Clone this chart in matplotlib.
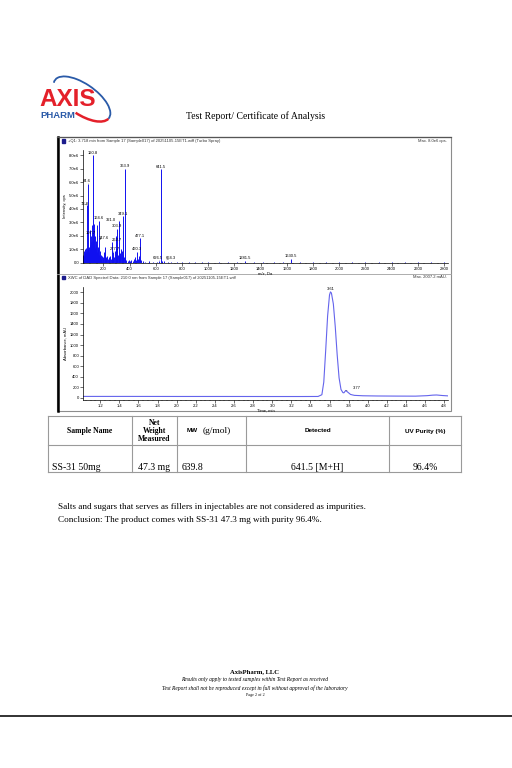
#!/usr/bin/env python3
"""
Test Report / Certificate of Analysis page: MS spectrum + UV (DAD) trace + result table
"""
import numpy as np
import matplotlib.pyplot as plt
from matplotlib.patches import Rectangle, Arc
from matplotlib.ticker import MultipleLocator, FuncFormatter

W, H = 512, 768
SERIF = 'Liberation Serif'
SANS = 'Liberation Sans'

# --- MS spectrum (+Q1, 3.718 min), intensity in 1e6 cps ---
ms_mz = [45, 50, 55, 58, 60, 63, 66, 70, 72.8, 75, 78, 80, 82, 84.6, 87, 90, 93,
         96, 99, 102, 105, 107.7, 110, 113, 116, 118, 120.8, 123, 126, 129, 132,
         135, 138, 141, 144, 147.6, 150, 153, 156, 159, 161, 164.6, 168, 172, 176,
         180, 185, 190, 195, 200, 205, 210, 214, 218, 222, 228, 233, 240, 245, 250,
         255, 262.7, 268, 272, 277.7, 283, 288, 293, 298, 303.9, 307, 312, 316,
         321.0, 325, 330, 335, 340, 344, 349.1, 353, 358, 363.9, 368, 375, 385,
         395, 405, 415, 425, 435, 445, 452, 460.3, 466, 471, 477.1, 483, 490, 500,
         520, 550, 580, 610, 626.5, 641.5, 650, 664.3, 690, 720, 760, 800, 850,
         900, 950, 1000, 1080, 1150, 1220, 1281.5, 1350, 1420, 1500, 1570, 1630.5,
         1700, 1800, 1900, 2000, 2100, 2200, 2300, 2400, 2500, 2600, 2700, 2800]
ms_int = [0.6, 0.9, 0.5, 1.0, 0.7, 0.4, 1.1, 0.8, 4.3, 0.9, 0.5, 1.0, 0.6, 5.9, 1.2,
          0.8, 0.5, 1.3, 0.9, 2.4, 1.5, 2.0, 1.0, 2.8, 1.6, 2.2, 8.0, 1.4, 2.9, 1.8,
          2.5, 1.1, 2.0, 0.9, 1.4, 1.6, 0.8, 2.8, 1.2, 0.7, 1.0, 3.1, 0.6, 0.9, 0.4,
          0.6, 0.3, 0.5, 0.3, 0.4, 0.8, 1.2, 0.6, 0.4, 0.3, 0.5, 0.3, 0.4, 0.2, 0.5,
          0.3, 1.5, 0.4, 0.3, 0.8, 0.4, 0.9, 1.0, 2.0, 2.5, 1.1, 0.6, 0.8, 3.1, 0.5,
          0.7, 1.0, 0.4, 0.9, 3.45, 0.6, 0.4, 7.0, 0.3, 0.2, 0.15, 0.2, 0.1, 0.2,
          0.15, 0.3, 0.4, 0.2, 0.8, 0.3, 0.5, 1.8, 0.3, 0.2, 0.1, 0.08, 0.1, 0.06,
          0.08, 0.15, 6.95, 0.1, 0.12, 0.06, 0.05, 0.04, 0.05, 0.04, 0.05, 0.03,
          0.05, 0.04, 0.03, 0.04, 0.15, 0.03, 0.04, 0.03, 0.04, 0.3, 0.03, 0.04,
          0.03, 0.04, 0.03, 0.03, 0.04, 0.03, 0.03, 0.03, 0.03, 0.03]
ms_label_mz = [72.8, 84.6, 107.7, 120.8, 147.6, 164.6, 262.7, 277.7, 303.9, 321.0,
               349.1, 363.9, 460.3, 477.1, 626.5, 641.5, 664.3, 1281.5, 1630.5]
# label offsets in pixels (dx, dy) where the label is pushed aside
ms_label_shift = {72.8: (-2, -2), 84.6: (-1, 0), 147.6: (7, 0), 262.7: (5, 0),
                  321.0: (-8, -2), 664.3: (7, 0), 626.5: (-1, 0), 277.7: (1, 0)}

# --- UV trace (XWC of DAD, 210 nm), mAU ---
uv_time = [1.02, 1.5, 2.0, 2.5, 3.0, 3.3, 3.48, 3.52, 3.54, 3.56, 3.58, 3.60, 3.61,
           3.62, 3.64, 3.66, 3.68, 3.70, 3.72, 3.74, 3.75, 3.77, 3.79, 3.82, 3.86,
           3.95, 4.1, 4.3, 4.5, 4.62, 4.68, 4.72, 4.78, 4.84]
uv_abs = [28, 28, 27, 27, 26, 26, 27, 60, 300, 900, 1550, 1950, 2007, 1985, 1780,
          1350, 820, 380, 160, 100, 95, 140, 110, 65, 48, 40, 36, 34, 33, 42, 52,
          55, 45, 38]
uv_label_t = [3.61, 3.77]

ms_header = '+Q1: 3.718 min from Sample 17 (Sample017) of 20251105-15ET1.wiff (Turbo Spray)'
ms_max = 'Max. 8.0e6 cps.'
uv_header = 'XWC of DAD Spectral Data: 210.0 nm from Sample 17 (Sample017) of 20251105-15ET1.wiff'
uv_max = 'Max. 2007.2 mAU.'

# --- result table ---
table_cols = [48, 132, 177, 246, 389, 461]
table_rows = [416, 445, 472]
row_values = ['SS-31 50mg', '47.3 mg', '639.8', '641.5 [M+H]', '96.4%']

notes = ['Salts and sugars that serves as fillers in injectables are not considered as impurities.',
         'Conclusion: The product comes with SS-31 47.3 mg with purity 96.4%.']
footer = ['Results only apply to tested samples within Test Report as received',
          'Test Report shall not be reproduced except in full without approval of the laboratory']


def px_axes(fig, left, top, right, bottom):
    return fig.add_axes([left / W, 1 - bottom / H, (right - left) / W, (bottom - top) / H])


def style_axes(ax):
    for s in ['top', 'right']:
        ax.spines[s].set_visible(False)
    for s in ['left', 'bottom']:
        ax.spines[s].set_linewidth(0.5)
    ax.tick_params(which='major', length=2, width=0.4, labelsize=3, pad=0.8)
    ax.tick_params(which='minor', length=1, width=0.3)
    for lab in ax.get_xticklabels() + ax.get_yticklabels():
        lab.set_family(SANS)


fig = plt.figure(figsize=(W / 100, H / 100), dpi=100)
fig.patch.set_facecolor('white')

# background "page" axes in pixel coordinates
bg = fig.add_axes([0, 0, 1, 1])
bg.set_xlim(0, W)
bg.set_ylim(H, 0)
bg.axis('off')

# logo
bg.add_patch(Arc((82, 99), 66, 30, angle=35, theta1=175, theta2=362,
                 color='#2a5aa8', lw=1.3))
bg.add_patch(Arc((82, 99), 66, 30, angle=35, theta1=2, theta2=80,
                 color='#e4202a', lw=1.8))
bg.text(39, 105.5, 'AXIS', color='#e4202a', fontsize=17.5, fontweight='bold',
        family=SANS, va='baseline', ha='left')
bg.text(40, 118.5, 'PHARM', color='#2a5aa8', fontsize=6.8, fontweight='bold',
        family=SANS, va='baseline', ha='left')

bg.text(256, 116, 'Test Report/ Certificate of Analysis', family=SERIF,
        fontsize=7, ha='center', va='center')

# chart panel frame
bg.add_patch(Rectangle((57, 137), 394, 274, fill=False, ec='#8c8c8c', lw=0.8))
bg.plot([57.6, 57.6], [137, 411], color='black', lw=1.8)
bg.plot([57, 451], [137.3, 137.3], color='#555555', lw=0.9)
bg.plot([57, 451], [273.5, 273.5], color='#a0a0a0', lw=0.6)
for y, left_txt, right_txt in [(141, ms_header, ms_max), (277.5, uv_header, uv_max)]:
    bg.add_patch(Rectangle((61.5, y - 1.6), 3.2, 3.2, color='#1c1c8c'))
    bg.text(68, y, left_txt, fontsize=3, family=SANS, va='center', ha='left', color='#333333')
    bg.text(447, y, right_txt, fontsize=3, family=SANS, va='center', ha='right', color='#333333')

# --- MS spectrum ---
ax = px_axes(fig, 83, 150, 448, 263)
mz = np.array(ms_mz)
inten = np.array(ms_int) * 1e6
ax.vlines(mz, 0, inten, color='#1010f0', lw=0.7)
ax.plot([mz.min(), mz.max()], [0, 0], color='#1010f0', lw=0.6)
ax.set_xlim(45, 2830)
ax.set_ylim(-0.03e6, 8.4e6)
ax.xaxis.set_major_locator(MultipleLocator(200))
ax.xaxis.set_minor_locator(MultipleLocator(50))
ax.yaxis.set_major_locator(MultipleLocator(1e6))
ax.yaxis.set_major_formatter(FuncFormatter(lambda v, p: '0.0' if v == 0 else f'{v / 1e6:.1f}e6'))
style_axes(ax)
ax.set_xlabel('m/z, Da', fontsize=3, family=SANS, labelpad=0.5)
ax.set_ylabel('Intensity, cps', fontsize=3, family=SANS, labelpad=1.5)
for m in ms_label_mz:
    i = inten[ms_mz.index(m)]
    dx, dy = ms_label_shift.get(m, (0, 0))
    arrow = dict(arrowstyle='-', lw=0.3, color='#333333') if dx else None
    ax.annotate(f'{m:.1f}', xy=(m, i), xytext=(dx * 0.72, 0.6 + dy * 0.72),
                textcoords='offset points', ha='center', va='bottom', fontsize=3,
                family=SANS, arrowprops=arrow)

# --- UV trace ---
ax2 = px_axes(fig, 83, 287, 448, 400)
ax2.plot(uv_time, uv_abs, color='#6464ec', lw=0.8)
ax2.set_xlim(1.02, 4.84)
ax2.set_ylim(-40, 2100)
ax2.xaxis.set_major_locator(MultipleLocator(0.2))
ax2.xaxis.set_minor_locator(MultipleLocator(0.05))
ax2.xaxis.set_major_formatter(FuncFormatter(lambda v, p: f'{v:.1f}'))
ax2.yaxis.set_major_locator(MultipleLocator(200))
ax2.yaxis.set_major_formatter(FuncFormatter(lambda v, p: f'{v:.0f}'))
style_axes(ax2)
ax2.set_xlabel('Time, min', fontsize=3, family=SANS, labelpad=0.5)
ax2.set_ylabel('Absorbance, mAU', fontsize=3, family=SANS, labelpad=1.5)
ax2.annotate(f'{uv_label_t[0]:.2f}', xy=(uv_label_t[0], uv_abs[uv_time.index(uv_label_t[0])]),
             xytext=(0, 0.6), textcoords='offset points', ha='center', va='bottom',
             fontsize=3, family=SANS)
ax2.annotate(f'{uv_label_t[1]:.2f}', xy=(uv_label_t[1], uv_abs[uv_time.index(uv_label_t[1])]),
             xytext=(5, 1.5), textcoords='offset points', ha='left', va='center',
             fontsize=3, family=SANS, arrowprops=dict(arrowstyle='-', lw=0.3, color='#333333'))

# --- table ---
for y in table_rows:
    bg.plot([table_cols[0], table_cols[-1]], [y, y], color='#9a9a9a', lw=0.8)
for x in table_cols:
    bg.plot([x, x], [table_rows[0], table_rows[-1]], color='#9a9a9a', lw=0.8)

hy = (table_rows[0] + table_rows[1]) / 2 + 0.5
bg.text(90, hy, 'Sample Name', family=SERIF, fontweight='bold', fontsize=5.5,
        ha='center', va='center')
bg.text(154.5, hy, 'Net\nWeight\nMeasured', family=SERIF, fontweight='bold',
        fontsize=5.5, ha='center', va='center', linespacing=1.05)
bg.text(187, hy, 'MW', family=SANS, fontweight='bold', fontsize=4.6, ha='left', va='center')
bg.text(202.5, hy, '(g/mol)', family=SERIF, fontsize=6.8, ha='left', va='center')
bg.text(317.5, hy, 'Detected', family=SANS, fontweight='bold', fontsize=4.6,
        ha='center', va='center')
bg.text(425, hy, 'UV Purity (%)', family=SANS, fontweight='bold', fontsize=4.6,
        ha='center', va='center')

ry = 468
bg.text(52.5, ry, row_values[0], family=SERIF, fontsize=7, ha='left', va='center')
bg.text(154, ry, row_values[1], family=SERIF, fontsize=7, ha='center', va='center')
bg.text(181.5, ry, row_values[2], family=SERIF, fontsize=7, ha='left', va='center')
bg.text(317.5, ry, row_values[3], family=SERIF, fontsize=7, ha='center', va='center')
bg.text(425, ry, row_values[4], family=SERIF, fontsize=7, ha='center', va='center')

# notes
bg.text(58, 507, notes[0], family=SERIF, fontsize=6.6, ha='left', va='center')
bg.text(58, 519.5, notes[1], family=SERIF, fontsize=6.6, ha='left', va='center')

# footer
bg.text(255, 672, 'AxisPharm, LLC', family=SERIF, fontweight='bold', fontsize=4.8,
        ha='center', va='center')
bg.text(255, 680, footer[0], family=SERIF, style='italic', fontsize=4, ha='center', va='center')
bg.text(255, 688, footer[1], family=SERIF, style='italic', fontsize=4, ha='center', va='center')
bg.text(255, 695, 'Page 2 of 2', family=SERIF, fontsize=3, ha='center', va='center')
bg.plot([0, W], [716, 716], color='#222222', lw=1.3)

fig.savefig('out.png', dpi=100, facecolor='white')
